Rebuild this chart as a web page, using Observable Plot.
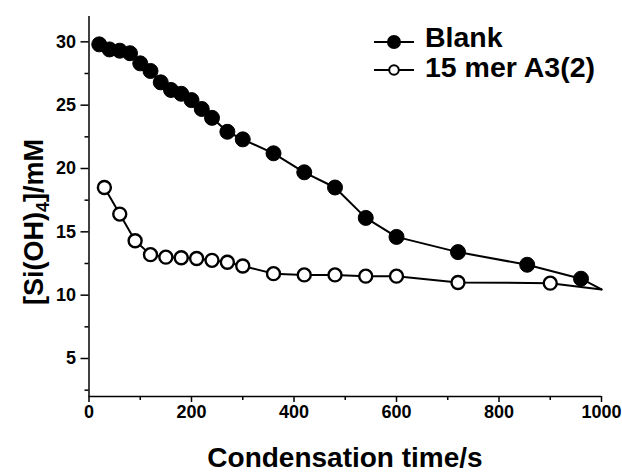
<!DOCTYPE html>
<html>
<head>
<meta charset="utf-8">
<script src="https://cdn.jsdelivr.net/npm/d3@7"></script>
<script src="https://cdn.jsdelivr.net/npm/@observablehq/plot@0.6"></script>
<style>
  html, body { margin: 0; padding: 0; background: white; }
  #chart { width: 622px; height: 476px; }
</style>
</head>
<body>
<div id="chart"></div>
<script>
// ---- data ----
const seriesNames = ["Blank", "15 mer A3(2)"];
const blankTime = [20, 40, 60, 80, 100, 120, 140, 160, 180, 200, 220, 240, 270, 300, 360, 420, 480, 540, 600, 720, 855, 960, 1000];
const blankConc = [29.8, 29.4, 29.3, 29.1, 28.3, 27.7, 26.8, 26.2, 25.9, 25.4, 24.7, 24.0, 22.9, 22.3, 21.2, 19.7, 18.5, 16.1, 14.6, 13.4, 12.4, 11.3, 10.45];
const a3Time = [30, 60, 90, 120, 150, 180, 210, 240, 270, 300, 360, 420, 480, 540, 600, 720, 900, 1000];
const a3Conc = [18.5, 16.4, 14.3, 13.2, 13.0, 12.95, 12.9, 12.75, 12.6, 12.3, 11.7, 11.6, 11.6, 11.5, 11.5, 11.0, 10.95, 10.45];
const xTicks = [0, 200, 400, 600, 800, 1000];
const xMinorTicks = [100, 300, 500, 700, 900];
const yTicks = [5, 10, 15, 20, 25, 30];
const yMinorTicks = [2.5, 7.5, 12.5, 17.5, 22.5, 27.5];
const xDomain = [0, 1000];
const yDomain = [2, 32];
const xLabel = "Condensation time/s";

const blank = blankTime.map((t, i) => ({t, c: blankConc[i]}));
const a3 = a3Time.map((t, i) => ({t, c: a3Conc[i]}));
const visible = d => d.t < xDomain[1];

const chart = Plot.plot({
  width: 622,
  height: 476,
  marginLeft: 88.5,
  marginRight: 21,
  marginTop: 16,
  marginBottom: 80,
  style: {fontFamily: "'Liberation Sans', Arial, sans-serif", fontWeight: "bold", fontSize: "18px", color: "black", background: "white", overflow: "visible"},
  x: {domain: xDomain},
  y: {domain: yDomain},
  marks: [
    Plot.axisX({ticks: xTicks, tickSize: 6, tickPadding: 3, label: null, fontSize: 18, tickFormat: d => String(d), strokeWidth: 1.5}),
    Plot.axisX({ticks: xMinorTicks, tickSize: 4, text: null, label: null, strokeWidth: 1.5}),
    Plot.axisY({ticks: yTicks, tickSize: 8, tickPadding: 5, label: null, fontSize: 18, tickFormat: d => String(d), strokeWidth: 1.5}),
    Plot.axisY({ticks: yMinorTicks, tickSize: 4, text: null, label: null, strokeWidth: 1.5}),
    Plot.ruleX([xDomain[0]], {stroke: "black", strokeWidth: 1.5}),
    Plot.ruleY([yDomain[0]], {stroke: "black", strokeWidth: 1.5}),
    Plot.line(a3, {x: "t", y: "c", stroke: "black", strokeWidth: 2}),
    Plot.dot(a3, {x: "t", y: "c", filter: visible, r: 6.5, fill: "white", stroke: "black", strokeWidth: 2.4}),
    Plot.line(blank, {x: "t", y: "c", stroke: "black", strokeWidth: 2}),
    Plot.dot(blank, {x: "t", y: "c", filter: visible, r: 7.5, fill: "black", stroke: "black", strokeWidth: 1})
  ]
});

document.getElementById("chart").appendChild(chart);

const svg = d3.select(chart);
const font = "'Liberation Sans', Arial, sans-serif";

// y-axis title with subscript
const yt = svg.append("text")
  .attr("transform", "translate(43,222) rotate(-90)")
  .attr("text-anchor", "middle")
  .attr("font-family", font)
  .attr("font-weight", "bold")
  .attr("font-size", 27)
  .attr("fill", "black");
yt.append("tspan").text("[Si(OH)");
yt.append("tspan").attr("font-size", 18).attr("dy", 6).text("4");
yt.append("tspan").attr("dy", -6).text("]/mM");

// x-axis title
svg.append("text")
  .attr("x", 345).attr("y", 467)
  .attr("text-anchor", "middle")
  .attr("font-family", font)
  .attr("font-weight", "bold")
  .attr("font-size", 28)
  .attr("fill", "black")
  .text(xLabel);

// legend
const legend = svg.append("g").attr("font-family", font).attr("font-weight", "bold").attr("font-size", 28.5).attr("text-anchor", "start");
const items = [
  {name: seriesNames[0], y: 42, filled: true, textY: 47},
  {name: seriesNames[1], y: 70, filled: false, textY: 77}
];
items.forEach(it => {
  legend.append("line").attr("x1", 374).attr("x2", 414).attr("y1", it.y).attr("y2", it.y)
    .attr("stroke", "black").attr("stroke-width", 2);
  legend.append("circle").attr("cx", 394).attr("cy", it.y)
    .attr("r", it.filled ? 6 : 4.8)
    .attr("fill", it.filled ? "black" : "white")
    .attr("stroke", "black").attr("stroke-width", 2);
  legend.append("text").attr("x", 425).attr("y", it.textY).attr("text-anchor", "start").attr("fill", "black").text(it.name);
});
</script>
</body>
</html>
